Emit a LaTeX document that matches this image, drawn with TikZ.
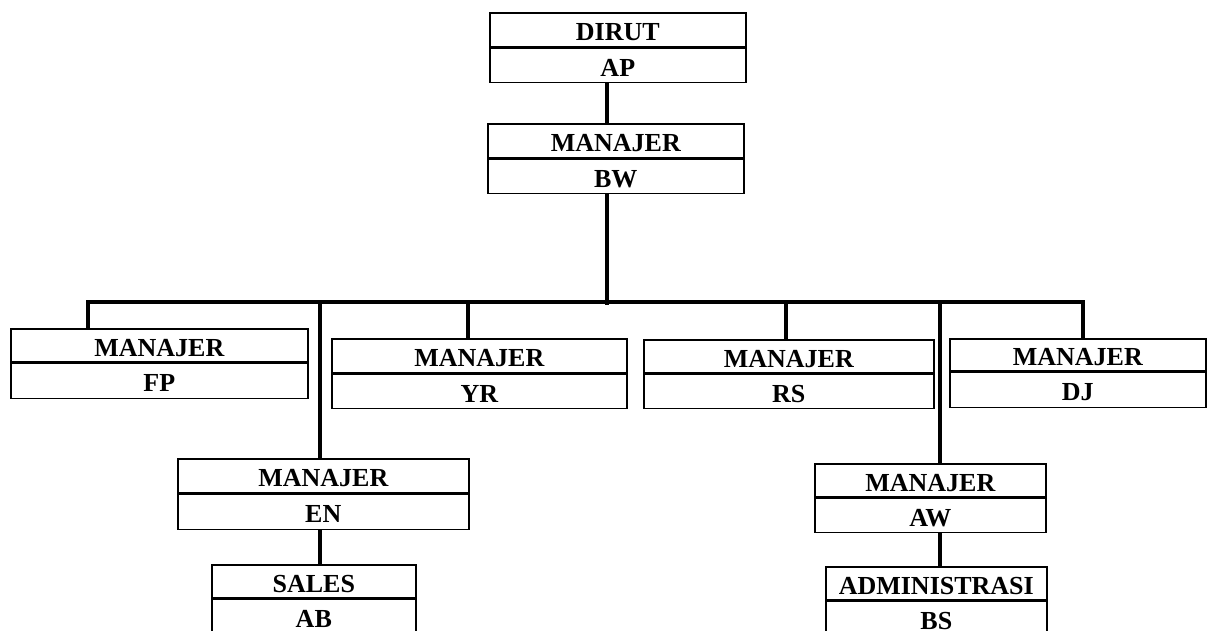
\documentclass[tikz,border=0pt]{standalone}
\usepackage{fontspec}
\setmainfont{Liberation Serif}
\begin{document}
\begin{tikzpicture}[x=1pt,y=-1pt,
  cell/.style={draw, line width=1.6pt, inner sep=0pt, anchor=north west,
    text height=22pt, text depth=0pt,
    font=\fontsize{26}{30}\selectfont\bfseries},
  conn/.style={line width=3.2pt}]
\clip (0,0) rectangle (1207,630);
\fill[white] (0,0) rectangle (1207,630);
% boxes
\newcommand\orgbox[8]{%
  \node[cell, minimum width=#3pt, minimum height=#5pt] (#1-t) at (#2) {#7};
  \node[cell, minimum width=#3pt, minimum height=#6pt] (#1-b) at (#1-t.south west) {#8};}
\orgbox{dirut}{489,12}{256}{}{34}{34}{DIRUT}{AP}
\orgbox{bw}{487,123}{256}{}{34}{34}{MANAJER}{BW}
\orgbox{fp}{10,328}{297}{}{33}{35}{MANAJER}{FP}
\orgbox{yr}{331,338}{295}{}{34}{34}{MANAJER}{YR}
\orgbox{rs}{643,339}{290}{}{33}{34}{MANAJER}{RS}
\orgbox{dj}{949,338}{256}{}{32}{35}{MANAJER}{DJ}
\orgbox{en}{177,458}{291}{}{34}{35}{MANAJER}{EN}
\orgbox{aw}{814,463}{231}{}{33}{34}{MANAJER}{AW}
\orgbox{sales}{211,564}{204}{}{33}{35}{SALES}{AB}
\orgbox{admin}{825,566}{221}{}{33}{35}{ADMINISTRASI}{BS}
% connector coordinates
\coordinate (stem) at (607,305);
\coordinate (barL) at (88,302);
\coordinate (barR) at (1083,302);
\coordinate (dYR) at (468,302);
\coordinate (dRS) at (786,302);
\coordinate (vEN) at (320,304);
\coordinate (vAW) at (940,304);
% connectors
\draw[conn] (stem |- dirut-b.south) -- (stem |- bw-t.north);
\draw[conn] (stem |- bw-b.south) -- (stem);
\draw[conn] (barL |- fp-t.north) -- (barL) -- (barR) -- (barR |- dj-t.north);
\draw[conn] (dYR) -- (dYR |- yr-t.north);
\draw[conn] (dRS) -- (dRS |- rs-t.north);
\draw[conn] (vEN) -- (vEN |- en-t.north);
\draw[conn] (vEN |- en-b.south) -- (vEN |- sales-t.north);
\draw[conn] (vAW) -- (vAW |- aw-t.north);
\draw[conn] (vAW |- aw-b.south) -- (vAW |- admin-t.north);
\end{tikzpicture}
\end{document}
